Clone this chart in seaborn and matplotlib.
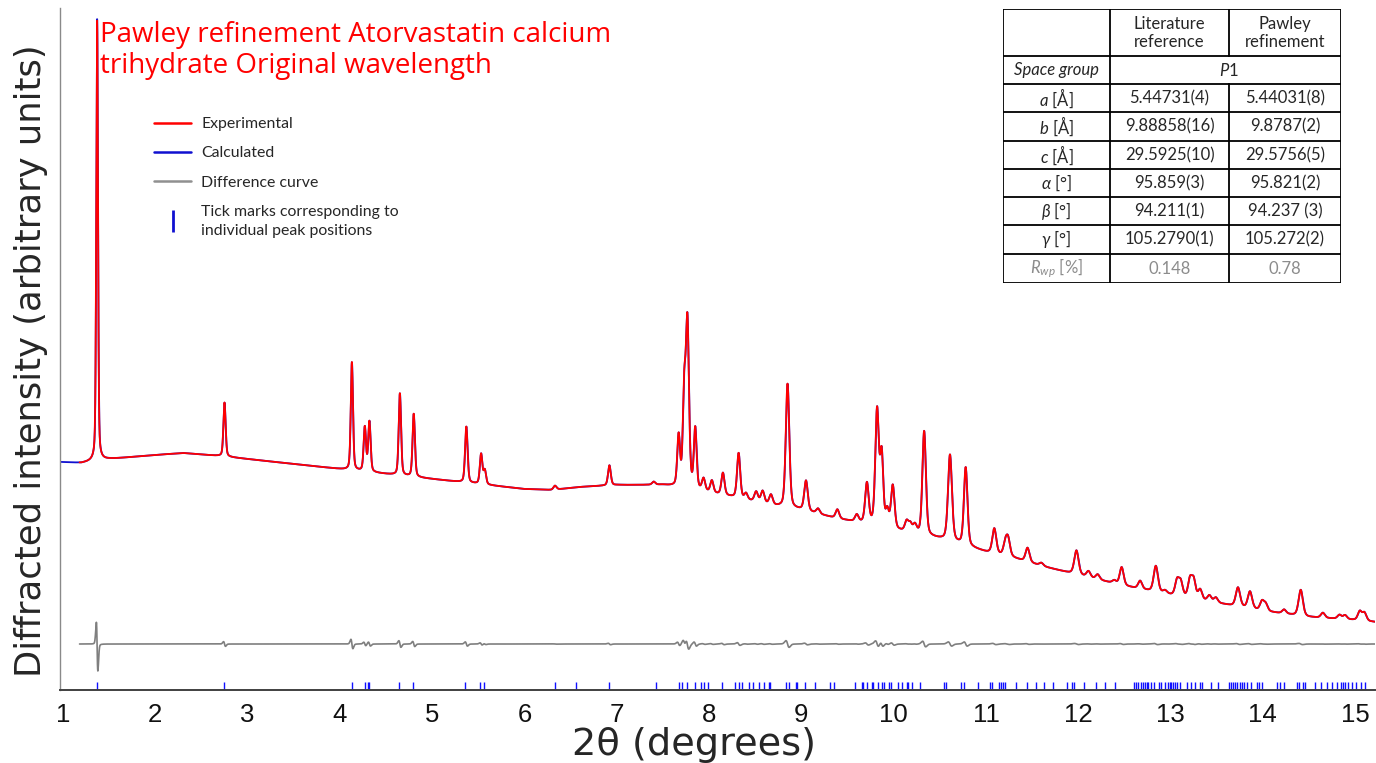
import numpy as np
import matplotlib
matplotlib.use("Agg")
import matplotlib.pyplot as plt
import seaborn as sns
import pandas as pd
from matplotlib.lines import Line2D

# ---------------- data ----------------
# background control points (2theta, intensity in arbitrary units)
bg_x = [0.97, 1.2, 1.5, 2.0, 2.3, 2.7, 3.0, 3.5, 4.0, 4.5, 5.0, 5.5, 6.0, 6.3, 6.6,
        7.0, 7.5, 7.9, 8.3, 8.7, 9.0, 9.4, 9.7, 10.0, 10.3, 10.6, 11.0, 11.3, 11.6,
        12.0, 12.5, 13.0, 13.5, 14.0, 14.5, 15.0, 15.22]
bg_y = [228, 227, 231, 235, 237, 234, 231, 226, 221, 216, 211, 206, 201, 200, 203,
        205, 205, 199, 192, 184, 180, 171, 166, 160, 155, 149, 138, 132, 124,
        115, 104, 95, 87, 79, 73, 70, 68]

# reflections: position, height above background (experimental), FWHM
peak_pos = [1.37, 2.75, 4.13, 4.27, 4.32, 4.65, 4.80, 5.37, 5.53, 5.57, 6.33, 6.92, 7.40,
            7.67, 7.73, 7.765, 7.85, 7.94, 8.03, 8.15, 8.32, 8.40, 8.51, 8.58, 8.67,
            8.85, 9.05, 9.18, 9.39, 9.60, 9.71, 9.82, 9.87, 9.93, 9.99, 10.14, 10.18,
            10.23, 10.33, 10.61, 10.78, 11.09, 11.21, 11.24, 11.45, 11.60, 11.98, 12.11,
            12.21, 12.39, 12.47, 12.67, 12.84, 12.94, 13.07, 13.11, 13.21, 13.25, 13.32,
            13.42, 13.49, 13.73, 13.86, 13.99, 14.03, 14.23, 14.41, 14.65, 14.83, 14.89,
            15.05, 15.10]
peak_height = [440, 54, 108, 44, 50, 82, 63, 56, 30, 14, 4, 20, 3,
               50, 88, 165, 60, 12, 12, 22, 45, 6, 10, 12, 10,
               124, 30, 5, 9, 7, 40, 115, 70, 16, 43, 10, 8,
               8, 104, 86, 78, 25, 12, 16, 14, 3, 24, 6,
               5, 3, 18, 8, 26, 3, 15, 14, 18, 18, 10,
               6, 5, 19, 17, 9, 7, 4, 26, 5, 4, 4,
               9, 8]
peak_fwhm = [0.022, 0.028, 0.028, 0.03, 0.03, 0.03, 0.03, 0.032, 0.032, 0.032, 0.04, 0.035, 0.04,
             0.035, 0.035, 0.04, 0.035, 0.04, 0.04, 0.04, 0.04, 0.04, 0.045, 0.045, 0.045,
             0.045, 0.045, 0.045, 0.045, 0.045, 0.045, 0.045, 0.04, 0.04, 0.045, 0.045, 0.045,
             0.045, 0.045, 0.05, 0.045, 0.05, 0.05, 0.05, 0.05, 0.05, 0.055, 0.05,
             0.05, 0.05, 0.05, 0.05, 0.055, 0.05, 0.05, 0.05, 0.05, 0.05, 0.05,
             0.05, 0.05, 0.055, 0.055, 0.05, 0.05, 0.05, 0.055, 0.05, 0.05, 0.05,
             0.05, 0.05]
calc_first_peak_height = 444
calc_shift = 0.0009

# tick marks of individual peak positions
tick_pos = [1.37, 2.75, 4.13, 4.27, 4.30, 4.32, 4.64, 4.79, 5.36, 5.52, 5.56, 6.33, 6.56, 6.92,
            7.42, 7.67, 7.71, 7.76, 7.85, 7.91, 7.94, 7.99, 8.14, 8.28, 8.32, 8.36, 8.43, 8.48,
            8.54, 8.59, 8.65, 8.66, 8.83, 8.87, 8.94, 8.95, 9.04, 9.15, 9.31, 9.35, 9.58, 9.66,
            9.67, 9.71, 9.77, 9.78, 9.83, 9.87, 9.90, 9.95, 9.97, 10.05, 10.09, 10.14, 10.16,
            10.20, 10.29, 10.55, 10.57, 10.73, 10.76, 10.91, 11.04, 11.07, 11.14, 11.16, 11.18,
            11.21, 11.33, 11.44, 11.54, 11.63, 11.73, 11.88, 11.93, 11.95, 12.06, 12.19, 12.29,
            12.40, 12.60, 12.63, 12.65, 12.68, 12.70, 12.72, 12.74, 12.76, 12.79, 12.82, 12.87,
            12.90, 12.94, 12.97, 12.99, 13.01, 13.03, 13.05, 13.07, 13.10, 13.18, 13.22, 13.27,
            13.32, 13.34, 13.44, 13.51, 13.63, 13.66, 13.68, 13.70, 13.72, 13.75, 13.77, 13.80,
            13.83, 13.87, 13.94, 13.96, 13.99, 14.15, 14.19, 14.23, 14.37, 14.39, 14.43, 14.46,
            14.56, 14.63, 14.70, 14.75, 14.80, 14.85, 14.87, 14.89, 14.92, 14.97, 15.01, 15.06,
            15.11]

x_ticks = list(range(1, 16))

title = "Pawley refinement Atorvastatin calcium\ntrihydrate Original wavelength"
legend_labels = ["Experimental", "Calculated", "Difference curve",
                 "Tick marks corresponding to\nindividual peak positions"]

table_header = ["", "Literature\nreference", "Pawley\nrefinement"]
table_params = [r"$\mathit{a}$ [Å]", r"$\mathit{b}$ [Å]", r"$\mathit{c}$ [Å]",
                r"$\mathit{α}$ [°]", r"$\mathit{β}$ [°]", r"$\mathit{γ}$ [°]"]
table_lit = ["5.44731(4)", "9.88858(16)", "29.5925(10)", "95.859(3)", "94.211(1)", "105.2790(1)"]
table_pawley = ["5.44031(8)", "9.8787(2)", "29.5756(5)", "95.821(2)", "94.237 (3)", "105.272(2)"]
space_group_label = "Space group"
space_group = r"$\mathit{P}$1"
rwp_label = r"$R_{wp}$ [%]"
rwp_values = ["0.148", "0.78"]

# ---------------- profile construction ----------------
def pattern(x, heights, shift):
    y = np.interp(x, bg_x, bg_y).astype(float)
    for p, h, w in zip(peak_pos, heights, peak_fwhm):
        d = (x - (p + shift)) / w
        g = np.exp(-4 * np.log(2) * d ** 2)
        l = 1.0 / (1.0 + 4 * d ** 2)
        y += h * (0.35 * l + 0.65 * g)
    return y

grid = np.arange(0.968, 15.215, 0.002)
calc_heights = [calc_first_peak_height] + peak_height[1:]
y_calc = pattern(grid, calc_heights, calc_shift)
y_exp_full = pattern(grid, peak_height, 0.0)
mask = grid >= 1.18
df_exp = pd.DataFrame({"x": grid[mask], "y": y_exp_full[mask]})
df_calc = pd.DataFrame({"x": grid, "y": y_calc})
df_diff = pd.DataFrame({"x": grid[mask], "y": (y_exp_full - y_calc)[mask] + 46})

# ---------------- figure ----------------
sns.set_style("white")
plt.rcParams["font.family"] = ["Lato", "DejaVu Sans"]
plt.rcParams["mathtext.fontset"] = "custom"
plt.rcParams["mathtext.rm"] = "Lato"
plt.rcParams["mathtext.it"] = "Lato:italic"
plt.rcParams["mathtext.bf"] = "Lato:bold"

W, H = 1376, 763
fig = plt.figure(figsize=(W / 100, H / 100), dpi=100)
ax = fig.add_axes([60 / W, (H - 690) / H, (1375 - 60) / W, (690 - 8) / H])

sns.lineplot(data=df_calc, x="x", y="y", ax=ax, color="#1010d0", lw=1.3,
             estimator=None, sort=False)
sns.lineplot(data=df_exp, x="x", y="y", ax=ax, color="#ff0000", lw=1.3,
             estimator=None, sort=False)
sns.lineplot(data=df_diff, x="x", y="y", ax=ax, color="#7f7f7f", lw=1.2,
             estimator=None, sort=False)
ax.vlines(tick_pos, 0, 8.5, color="#1010ff", lw=1.0)

ax.set_xlim(0.968, 15.215)
ax.set_ylim(0, 682)
ax.set_xticks(x_ticks)
ax.set_xticks(np.arange(1, 15.3, 0.2), minor=True)
ax.set_yticks([])
ax.set_xlabel("")
ax.set_ylabel("")
for s in ["top", "right"]:
    ax.spines[s].set_visible(False)
ax.spines["left"].set_color("#8a8a8a")
ax.spines["left"].set_linewidth(1.0)
ax.spines["bottom"].set_color("#404040")
ax.spines["bottom"].set_linewidth(1.4)
ax.tick_params(axis="x", which="major", length=7, width=1.3, color="#404040",
               direction="out", pad=2, labelsize=18.5, labelcolor="#111111")
ax.tick_params(axis="x", which="minor", length=3.5, width=1.0, color="#404040",
               direction="out")
narrow = ["Liberation Sans Narrow", "Liberation Sans", "DejaVu Sans"]
for lab in ax.get_xticklabels():
    lab.set_fontfamily(narrow)

label_font = ["DejaVu Sans"]
fig.text(694 / W, 1 - 745 / H, "2θ (degrees)", ha="center", va="center",
         fontsize=27.5, family=label_font)
fig.text(31 / W, 1 - 361 / H, "Diffracted intensity (arbitrary units)", ha="center",
         va="center", rotation=90, fontsize=25.5, family=label_font)

fig.text(100 / W, 1 - 21 / H, title, ha="left", va="top", fontsize=20,
         color="#ff0000", family=["Open Sans", "DejaVu Sans"], linespacing=1.12)

handles = [Line2D([], [], color="#ff0000", lw=1.8),
           Line2D([], [], color="#1010d0", lw=1.8),
           Line2D([], [], color="#909090", lw=1.8),
           Line2D([], [], color="#1010d0", lw=0, marker="|", markersize=16,
                  markeredgewidth=2.0)]
leg = fig.legend(handles, legend_labels, loc="upper left",
                 bbox_to_anchor=(140 / W, 1 - 103 / H), frameon=False, fontsize=11.4,
                 handlelength=2.35, handletextpad=0.63, labelspacing=0.95)
for t in leg.get_texts():
    t.set_linespacing(1.5)

# ---------------- parameter table ----------------
tax = fig.add_axes([1003 / W, 1 - 283 / H, 338 / W, 274 / H])
tax.set_xlim(0, 338)
tax.set_ylim(274, 0)
tax.axis("off")
cols = [0, 107, 226, 338]
rows = [0, 47, 75, 103, 132, 160, 188, 216, 245, 274]
lk = dict(color="black", lw=1.3, solid_capstyle="projecting")
for yv in rows:
    tax.plot([0, 338], [yv, yv], **lk)
tax.plot([0, 0], [0, 274], **lk)
tax.plot([338, 338], [0, 274], **lk)
tax.plot([107, 107], [0, 274], **lk)
tax.plot([226, 226], [0, 47], **lk)
tax.plot([226, 226], [75, 274], **lk)
cx = [(cols[i] + cols[i + 1]) / 2 for i in range(3)]
fs = 12
for i, t in enumerate(table_header):
    tax.text(cx[i], 24, t, ha="center", va="center", fontsize=fs, linespacing=1.1)
tax.text(cx[0], 61, space_group_label, ha="center", va="center", fontsize=fs,
         style="italic")
tax.text(226, 61, space_group, ha="center", va="center", fontsize=fs)
for k, (p, a, b) in enumerate(zip(table_params, table_lit, table_pawley)):
    yc = (rows[k + 2] + rows[k + 3]) / 2
    tax.text(cx[0], yc, p, ha="center", va="center", fontsize=fs)
    tax.text(cx[1], yc, a, ha="center", va="center", fontsize=fs)
    tax.text(cx[2], yc, b, ha="center", va="center", fontsize=fs)
yc = (rows[8] + rows[9]) / 2
tax.text(cx[0], yc, rwp_label, ha="center", va="center", fontsize=fs, color="#8c8c8c")
tax.text(cx[1], yc, rwp_values[0], ha="center", va="center", fontsize=fs, color="#8c8c8c")
tax.text(cx[2], yc, rwp_values[1], ha="center", va="center", fontsize=fs, color="#8c8c8c")

fig.savefig("out.png", dpi=100)
